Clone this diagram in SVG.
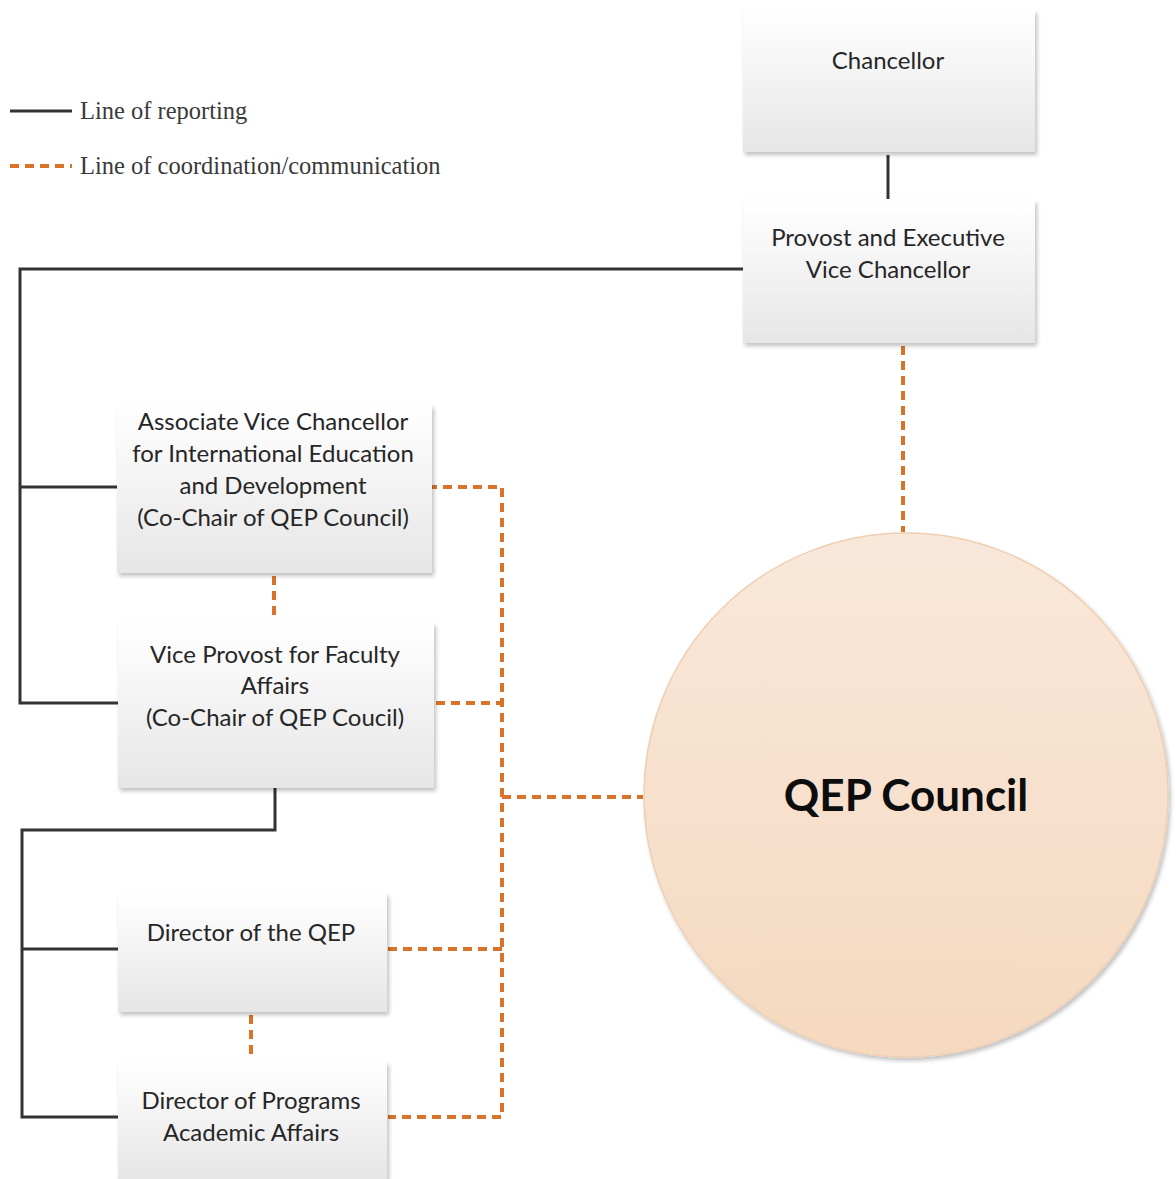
<svg xmlns="http://www.w3.org/2000/svg" width="1176" height="1179" viewBox="0 0 1176 1179">
  <defs>
    <linearGradient id="boxFill" x1="0" y1="0" x2="0" y2="1">
      <stop offset="0" stop-color="#ffffff"/>
      <stop offset="1" stop-color="#e6e6e6"/>
    </linearGradient>
    <linearGradient id="circleFill" x1="0" y1="0" x2="0" y2="1">
      <stop offset="0" stop-color="#f9e8da"/>
      <stop offset="1" stop-color="#f5d9c0"/>
    </linearGradient>
    <filter id="shadow" x="-5%" y="-5%" width="115%" height="115%">
      <feGaussianBlur in="SourceAlpha" stdDeviation="2"/>
      <feOffset dx="2" dy="3" result="b"/>
      <feComponentTransfer><feFuncA type="linear" slope="0.25"/></feComponentTransfer>
      <feMerge><feMergeNode/><feMergeNode in="SourceGraphic"/></feMerge>
    </filter>
  </defs>
  <style>
    .box { fill: url(#boxFill); filter: url(#shadow); }
    .label { font-family: Lato, "Open Sans", sans-serif; font-size: 24px; fill: #262626; text-anchor: middle; }
    .report { fill: none; stroke: #333333; stroke-width: 3; }
    .coord { fill: none; stroke: #d9732a; stroke-width: 4; stroke-dasharray: 9 6; }
    .legend { font-family: "Liberation Serif", serif; font-size: 24.5px; fill: #3a3a3a; }
  </style>
  <rect width="1176" height="1179" fill="#ffffff"/>

  <!-- legend -->
  <g id="legend">
    <line x1="10" y1="111" x2="72" y2="111" class="report"/>
    <text x="80" y="119" class="legend">Line of reporting</text>
    <line x1="10" y1="166" x2="72" y2="166" class="coord"/>
    <text x="80" y="174" class="legend">Line of coordination/communication</text>
  </g>

  <!-- connectors -->
  <g id="connectors">
    <!-- reporting lines -->
    <line x1="888" y1="155" x2="888" y2="199" class="report"/>
    <polyline points="743,269 20,269 20,703 118,703" class="report"/>
    <line x1="20" y1="487" x2="117" y2="487" class="report"/>
    <polyline points="275,788 275,830 22,830 22,1117 118,1117" class="report"/>
    <line x1="22" y1="949" x2="118" y2="949" class="report"/>
    <!-- coordination lines -->
    <line x1="903" y1="346" x2="903" y2="532" class="coord"/>
    <line x1="274" y1="576" x2="274" y2="618" class="coord"/>
    <line x1="251" y1="1015" x2="251" y2="1057" class="coord"/>
    <polyline points="428,487 502,487 502,1117 388,1117" class="coord"/>
    <line x1="436" y1="703" x2="502" y2="703" class="coord"/>
    <line x1="388" y1="949" x2="502" y2="949" class="coord"/>
    <line x1="502" y1="797" x2="643" y2="797" class="coord"/>
  </g>

  <g id="chancellor">
    <rect x="743" y="10" width="292" height="142" class="box"/>
    <text x="888" y="69" class="label">Chancellor</text>
  </g>

  <g id="provost">
    <rect x="743" y="200" width="292" height="143" class="box"/>
    <text x="888" y="246" class="label">Provost and Executive</text>
    <text x="888" y="278" class="label">Vice Chancellor</text>
  </g>

  <g id="assoc-vice-chancellor">
    <rect x="117" y="405" width="315" height="168" class="box"/>
    <text x="273" y="430" class="label">Associate Vice Chancellor</text>
    <text x="273" y="462" class="label">for International Education</text>
    <text x="273" y="494" class="label">and Development</text>
    <text x="273" y="526" class="label">(Co-Chair of QEP Council)</text>
  </g>

  <g id="vice-provost">
    <rect x="118" y="623" width="316" height="165" class="box"/>
    <text x="275" y="663" class="label">Vice Provost for Faculty</text>
    <text x="275" y="694" class="label">Affairs</text>
    <text x="275" y="726" class="label">(Co-Chair of QEP Coucil)</text>
  </g>

  <g id="director-qep">
    <rect x="118" y="893" width="269" height="119" class="box"/>
    <text x="251" y="941" class="label">Director of the QEP</text>
  </g>

  <g id="director-programs">
    <rect x="118" y="1062" width="269" height="117" class="box"/>
    <text x="251" y="1109" class="label">Director of Programs</text>
    <text x="251" y="1141" class="label">Academic Affairs</text>
  </g>

  <g id="qep-council">
    <circle cx="906" cy="795" r="262" fill="url(#circleFill)" stroke="#efcfb2" stroke-width="1.5" filter="url(#shadow)"/>
    <text x="906" y="811" font-family="Lato, 'Open Sans', sans-serif" font-size="44" font-weight="bold" fill="#0d0d0d" text-anchor="middle">QEP Council</text>
  </g>
</svg>
